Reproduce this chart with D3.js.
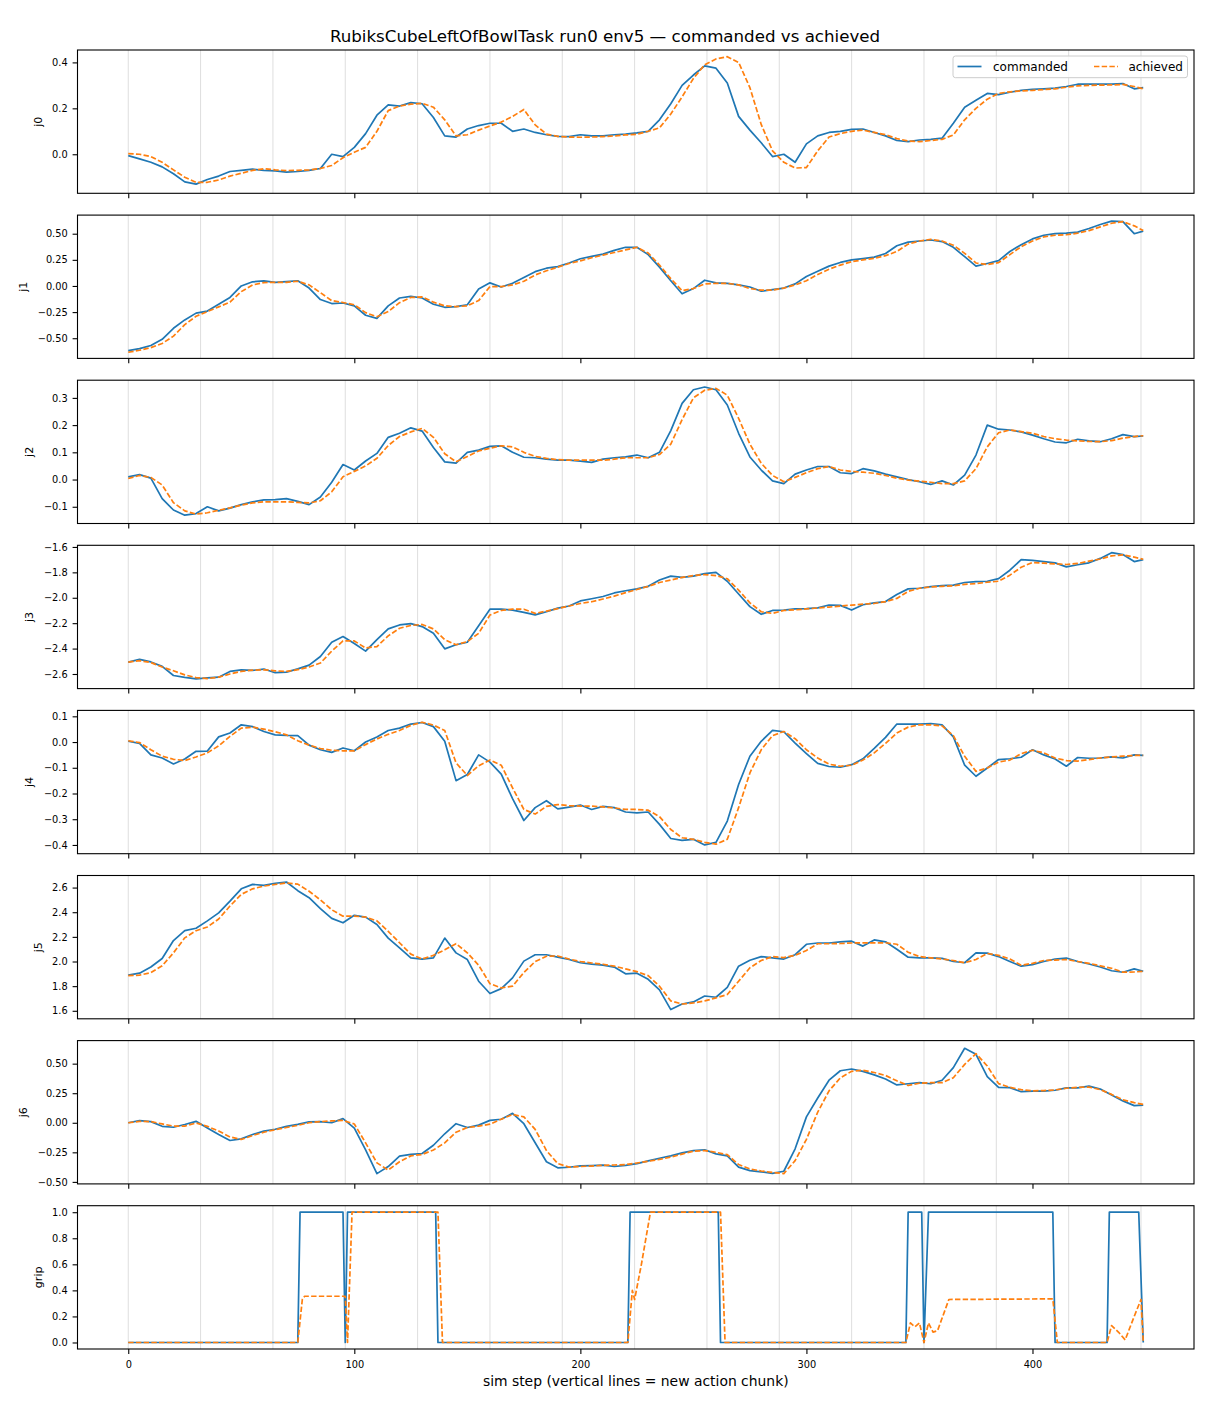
<!DOCTYPE html>
<html>
<head>
<meta charset="utf-8">
<script src="https://cdn.jsdelivr.net/npm/d3@7"></script>
<style>
  body { margin: 0; background: #fff; }
  svg text { font-family: "DejaVu Sans", sans-serif; fill: #000; }
</style>
</head>
<body>
<svg id="fig" width="1210" height="1408"></svg>
<script>
// sample steps for the joint series: every 5th sim step plus the last one
const steps = d3.range(0, 450, 5).concat([449]);

// action chunk boundaries (vertical lines)
const chunkStarts = [0, 32, 64, 96, 128, 160, 192, 224, 256, 288, 320, 352, 384, 416, 448];

const j0Cmd = [
  -0.006, -0.02, -0.035, -0.055, -0.085, -0.12, -0.13, -0.11, -0.095, -0.075,
  -0.07, -0.065, -0.07, -0.072, -0.078, -0.075, -0.07, -0.062, 0.0, -0.01,
  0.03, 0.09, 0.17, 0.215, 0.21, 0.225, 0.22, 0.16, 0.08, 0.075,
  0.11, 0.125, 0.135, 0.135, 0.1, 0.11, 0.095, 0.085, 0.078, 0.077,
  0.085, 0.08, 0.08, 0.085, 0.088, 0.093, 0.1, 0.15, 0.22, 0.3,
  0.345, 0.385, 0.375, 0.31, 0.165, 0.105, 0.05, -0.01, 0.0, -0.035,
  0.045, 0.08, 0.095, 0.1, 0.108, 0.11, 0.095, 0.08, 0.06, 0.055,
  0.062, 0.065, 0.07, 0.135, 0.205, 0.235, 0.265, 0.26, 0.27, 0.278,
  0.283, 0.285, 0.288, 0.295, 0.305, 0.305, 0.306, 0.305, 0.308, 0.285,
  0.29];
const j0Ach = [
  0.003, 0.0, -0.01, -0.035, -0.068, -0.1, -0.122, -0.122, -0.112, -0.095,
  -0.083, -0.07, -0.063, -0.068, -0.071, -0.07, -0.068, -0.062, -0.049, -0.015,
  0.009, 0.03, 0.1, 0.19, 0.21, 0.218, 0.222, 0.205, 0.15, 0.08,
  0.085, 0.105, 0.123, 0.14, 0.165, 0.195, 0.128, 0.088, 0.078, 0.075,
  0.074, 0.075, 0.077, 0.08, 0.084, 0.087, 0.1, 0.115, 0.175, 0.25,
  0.33, 0.39, 0.415, 0.425, 0.4, 0.29, 0.13, 0.015, -0.035, -0.06,
  -0.058, 0.015, 0.075, 0.09, 0.1, 0.105, 0.095, 0.085, 0.068, 0.058,
  0.055, 0.06, 0.065, 0.084, 0.15, 0.2, 0.24, 0.265, 0.272, 0.276,
  0.278, 0.282, 0.285, 0.292, 0.298, 0.3, 0.301, 0.302, 0.304, 0.295,
  0.285];

const j1Cmd = [
  -0.618, -0.6, -0.57, -0.51, -0.405, -0.325, -0.26, -0.24, -0.175, -0.11,
  0.0, 0.04, 0.048, 0.035, 0.042, 0.05, -0.02, -0.13, -0.168, -0.163,
  -0.19, -0.28, -0.31, -0.19, -0.115, -0.1, -0.115, -0.175, -0.204, -0.198,
  -0.18, -0.03, 0.03, -0.01, 0.025, 0.08, 0.137, 0.17, 0.185, 0.22,
  0.26, 0.283, 0.305, 0.34, 0.37, 0.37, 0.3, 0.18, 0.05, -0.075,
  -0.025, 0.055, 0.03, 0.025, 0.01, -0.01, -0.05, -0.035, -0.02, 0.02,
  0.09, 0.14, 0.19, 0.225, 0.25, 0.262, 0.276, 0.31, 0.385, 0.42,
  0.43, 0.44, 0.425, 0.37, 0.28, 0.19, 0.215, 0.242, 0.33, 0.395,
  0.45, 0.485, 0.5, 0.505, 0.515, 0.55, 0.588, 0.62, 0.615, 0.5,
  0.525];
const j1Ach = [
  -0.634, -0.615, -0.59, -0.55, -0.48, -0.37, -0.29, -0.245, -0.2, -0.155,
  -0.054, 0.01, 0.032, 0.035, 0.035, 0.045, 0.01, -0.064, -0.14, -0.158,
  -0.18, -0.255, -0.295, -0.245, -0.16, -0.11, -0.105, -0.155, -0.19, -0.198,
  -0.19, -0.14, -0.006, -0.006, 0.01, 0.045, 0.105, 0.145, 0.18, 0.215,
  0.24, 0.27, 0.295, 0.32, 0.345, 0.37, 0.315, 0.2, 0.07, -0.045,
  -0.025, 0.02, 0.025, 0.025, 0.01, -0.025, -0.04, -0.04, -0.02, 0.01,
  0.05, 0.11, 0.16, 0.2, 0.232, 0.25, 0.265, 0.29, 0.33, 0.4,
  0.43, 0.446, 0.43, 0.39, 0.312, 0.22, 0.205, 0.223, 0.3, 0.376,
  0.43, 0.47, 0.485, 0.49, 0.505, 0.53, 0.565, 0.6, 0.615, 0.575,
  0.53];

const j2Cmd = [
  0.01, 0.018, 0.005, -0.07, -0.112, -0.131, -0.125, -0.1, -0.115, -0.105,
  -0.092, -0.082, -0.075, -0.074, -0.07, -0.08, -0.092, -0.064, -0.01, 0.055,
  0.035, 0.068, 0.096, 0.155, 0.17, 0.19, 0.178, 0.118, 0.065, 0.06,
  0.1, 0.108, 0.122, 0.124, 0.1, 0.082, 0.08, 0.075, 0.071, 0.071,
  0.068, 0.063, 0.075, 0.08, 0.083, 0.09, 0.08, 0.1, 0.18, 0.28,
  0.33, 0.34, 0.33, 0.274, 0.17, 0.083, 0.035, -0.005, -0.015, 0.02,
  0.035, 0.048, 0.048, 0.025, 0.022, 0.04, 0.032, 0.02, 0.01, 0.0,
  -0.008, -0.018, -0.005, -0.02, 0.016, 0.09, 0.2, 0.185, 0.182, 0.175,
  0.163, 0.15, 0.138, 0.135, 0.148, 0.142, 0.139, 0.15, 0.165, 0.158,
  0.16];
const j2Ach = [
  0.004, 0.015, 0.008, -0.02, -0.085, -0.115, -0.127, -0.122, -0.113, -0.104,
  -0.094, -0.086, -0.082, -0.082, -0.082, -0.084, -0.086, -0.078, -0.045, 0.01,
  0.03, 0.05, 0.078, 0.125, 0.158, 0.175, 0.188, 0.155, 0.095, 0.065,
  0.085, 0.105, 0.115, 0.124, 0.12, 0.1, 0.085, 0.078, 0.073, 0.071,
  0.071, 0.071, 0.071, 0.075, 0.08, 0.08, 0.08, 0.092, 0.13, 0.22,
  0.3, 0.328, 0.335, 0.31, 0.225, 0.13, 0.06, 0.015, -0.008, 0.008,
  0.025, 0.04, 0.048, 0.035, 0.03, 0.027, 0.023, 0.015, 0.005, -0.002,
  -0.006, -0.01, -0.015, -0.015, -0.005, 0.04, 0.12, 0.172, 0.182, 0.176,
  0.17, 0.158, 0.15, 0.145, 0.142, 0.14, 0.139, 0.143, 0.152, 0.158,
  0.161];

const j3Cmd = [
  -2.507, -2.485, -2.505, -2.54, -2.612, -2.627, -2.638, -2.63, -2.625, -2.58,
  -2.568, -2.572, -2.561, -2.59, -2.585, -2.56, -2.53, -2.462, -2.35, -2.305,
  -2.36, -2.42, -2.33, -2.245, -2.214, -2.203, -2.227, -2.28, -2.402, -2.37,
  -2.35, -2.22, -2.09, -2.09, -2.097, -2.115, -2.135, -2.11, -2.082, -2.065,
  -2.025, -2.008, -1.99, -1.962, -1.945, -1.93, -1.91, -1.86, -1.83, -1.84,
  -1.83, -1.81, -1.8, -1.87, -1.97, -2.07, -2.13, -2.1, -2.097, -2.088,
  -2.085, -2.08, -2.057, -2.06, -2.097, -2.055, -2.04, -2.03, -1.975, -1.93,
  -1.925, -1.912, -1.905, -1.9, -1.88, -1.873, -1.87, -1.849, -1.783, -1.7,
  -1.705, -1.715, -1.725, -1.757, -1.74, -1.725, -1.69, -1.645, -1.66, -1.715,
  -1.7];
const j3Ach = [
  -2.507, -2.495, -2.51, -2.545, -2.575, -2.607, -2.628, -2.636, -2.625, -2.6,
  -2.58, -2.57, -2.567, -2.575, -2.58, -2.566, -2.545, -2.514, -2.42, -2.34,
  -2.34, -2.395, -2.384, -2.3, -2.24, -2.218, -2.21, -2.245, -2.33, -2.37,
  -2.345, -2.28, -2.136, -2.1, -2.09, -2.09, -2.123, -2.105, -2.085, -2.065,
  -2.045, -2.031, -2.01, -1.987, -1.96, -1.935, -1.91, -1.88, -1.86, -1.84,
  -1.825, -1.818, -1.825, -1.85, -1.94, -2.04, -2.11, -2.123, -2.1, -2.095,
  -2.088, -2.08, -2.073, -2.065, -2.058, -2.05, -2.045, -2.03, -2.005, -1.95,
  -1.925, -1.915, -1.91, -1.906, -1.895, -1.888, -1.878, -1.87, -1.822, -1.76,
  -1.722, -1.728, -1.733, -1.738, -1.73, -1.712, -1.695, -1.67, -1.662, -1.68,
  -1.697];

const j4Cmd = [
  0.003, -0.005, -0.05, -0.062, -0.085, -0.066, -0.036, -0.035, 0.02, 0.035,
  0.067, 0.06, 0.041, 0.028, 0.026, 0.025, -0.012, -0.03, -0.04, -0.023,
  -0.034, 0.0, 0.02, 0.045, 0.054, 0.07, 0.076, 0.06, 0.003, -0.15,
  -0.126, -0.05, -0.078, -0.125, -0.22, -0.305, -0.255, -0.228, -0.26, -0.253,
  -0.245, -0.262, -0.25, -0.255, -0.272, -0.275, -0.272, -0.32, -0.375, -0.382,
  -0.378, -0.4, -0.39, -0.307, -0.165, -0.055, 0.003, 0.045, 0.04, -0.004,
  -0.045, -0.083, -0.095, -0.098, -0.088, -0.065, -0.025, 0.018, 0.07, 0.07,
  0.07, 0.072, 0.067, 0.02, -0.09, -0.133, -0.101, -0.068, -0.065, -0.059,
  -0.03, -0.05, -0.066, -0.094, -0.06, -0.063, -0.062, -0.058, -0.062, -0.05,
  -0.052];
const j4Ach = [
  0.005, -0.002, -0.03, -0.055, -0.067, -0.072, -0.058, -0.042, -0.015, 0.022,
  0.054, 0.058, 0.05, 0.04, 0.028, 0.005, -0.012, -0.025, -0.032, -0.034,
  -0.034, -0.01, 0.012, 0.03, 0.045, 0.065, 0.077, 0.066, 0.045, -0.081,
  -0.13, -0.092, -0.07, -0.09, -0.178, -0.262, -0.28, -0.25, -0.243, -0.247,
  -0.249, -0.249, -0.252, -0.256, -0.262, -0.262, -0.265, -0.29, -0.34, -0.372,
  -0.378, -0.39, -0.397, -0.378, -0.255, -0.12, -0.03, 0.025, 0.041, 0.013,
  -0.03, -0.062, -0.086, -0.094, -0.09, -0.07, -0.042, -0.005, 0.035, 0.058,
  0.067, 0.067, 0.063, 0.025, -0.055, -0.114, -0.101, -0.078, -0.07, -0.045,
  -0.032, -0.042, -0.062, -0.072, -0.074, -0.068, -0.062, -0.058, -0.055, -0.052,
  -0.052];

const j5Cmd = [
  1.889, 1.905, 1.955, 2.024, 2.17, 2.25, 2.27, 2.33, 2.395, 2.49,
  2.59, 2.626, 2.618, 2.635, 2.645, 2.575, 2.518, 2.43, 2.35, 2.314,
  2.375, 2.36, 2.3, 2.19, 2.11, 2.03, 2.02, 2.03, 2.19, 2.07,
  2.016, 1.84, 1.74, 1.78, 1.867, 2.003, 2.055, 2.055, 2.035, 2.016,
  1.99, 1.978, 1.97, 1.955, 1.9, 1.905, 1.855, 1.77, 1.61, 1.655,
  1.672, 1.72, 1.71, 1.79, 1.962, 2.01, 2.04, 2.03, 2.02, 2.055,
  2.14, 2.15, 2.15, 2.16, 2.165, 2.125, 2.175, 2.16, 2.1, 2.035,
  2.03, 2.03, 2.025, 2.0, 1.99, 2.07, 2.068, 2.04, 2.0, 1.962,
  1.975, 2.0, 2.02, 2.028, 2.0, 1.98, 1.955, 1.925, 1.913, 1.94,
  1.921];
const j5Ach = [
  1.886, 1.889, 1.91, 1.965, 2.07, 2.192, 2.25, 2.28, 2.345, 2.45,
  2.545, 2.59, 2.612, 2.625, 2.638, 2.628, 2.57, 2.5, 2.42, 2.368,
  2.369, 2.36, 2.33, 2.245, 2.152, 2.06, 2.02, 2.05, 2.095, 2.145,
  2.07, 1.97, 1.82, 1.786, 1.8, 1.91, 2.0, 2.043, 2.045, 2.02,
  2.0, 1.988, 1.978, 1.962, 1.94, 1.918, 1.885, 1.8, 1.68, 1.655,
  1.664, 1.68, 1.705, 1.732, 1.84, 1.949, 2.008, 2.04, 2.032, 2.05,
  2.09, 2.144, 2.144, 2.146, 2.15, 2.152, 2.152, 2.152, 2.14, 2.075,
  2.04, 2.03, 2.02, 2.008, 1.99, 2.016, 2.065, 2.05, 2.02, 1.97,
  1.985, 2.008, 2.012, 2.016, 2.0, 1.985, 1.965, 1.945, 1.913, 1.915,
  1.921];

const j6Cmd = [
  0.0, 0.018, 0.01, -0.03, -0.038, -0.015, 0.012, -0.045, -0.1, -0.15,
  -0.136, -0.099, -0.071, -0.055, -0.03, -0.014, 0.008, 0.01, 0.0, 0.035,
  -0.045, -0.23, -0.43, -0.37, -0.282, -0.268, -0.26, -0.19, -0.093, -0.008,
  -0.04, -0.02, 0.02, 0.03, 0.08, -0.008, -0.169, -0.33, -0.381, -0.376,
  -0.365, -0.362, -0.358, -0.37, -0.36, -0.345, -0.322, -0.3, -0.28, -0.255,
  -0.235, -0.228, -0.263, -0.28, -0.375, -0.405, -0.415, -0.428, -0.41, -0.22,
  0.05, 0.21, 0.36, 0.44, 0.455, 0.435, 0.405, 0.37, 0.32, 0.33,
  0.34, 0.33, 0.36, 0.466, 0.63, 0.579, 0.39, 0.3, 0.297, 0.263,
  0.268, 0.268, 0.275, 0.295, 0.295, 0.31, 0.285, 0.235, 0.185, 0.145,
  0.15];
const j6Ach = [
  0.0, 0.012, 0.01, -0.01, -0.028, -0.028, -0.002, -0.03, -0.07, -0.12,
  -0.141, -0.108, -0.08, -0.058, -0.04, -0.022, 0.0, 0.01, 0.016, 0.02,
  -0.01, -0.17, -0.339, -0.4, -0.33, -0.28, -0.268, -0.23, -0.17, -0.08,
  -0.04, -0.028, -0.012, 0.03, 0.07, 0.05, -0.056, -0.235, -0.345, -0.375,
  -0.37, -0.366, -0.36, -0.357, -0.354, -0.34, -0.326, -0.31, -0.29, -0.265,
  -0.24, -0.235, -0.25, -0.27, -0.353, -0.39, -0.408, -0.42, -0.43, -0.32,
  -0.14, 0.09, 0.27, 0.38, 0.435, 0.444, 0.425, 0.4, 0.355, 0.315,
  0.335, 0.339, 0.339, 0.381, 0.494, 0.585, 0.48, 0.331, 0.3, 0.28,
  0.27, 0.272, 0.278, 0.292, 0.3, 0.302, 0.28, 0.24, 0.195, 0.17,
  0.155];

// gripper: breakpoints of the step-like signals
const gripCmdSteps = [0, 75, 76, 95, 96, 97, 136, 137, 221, 222, 261, 262, 344, 345, 351, 352, 354, 409, 410, 433, 434, 447, 449];
const gripCmdVals  = [0, 0, 1, 1, 0, 1, 1, 0, 0, 1, 1, 0, 0, 1, 1, 0, 1, 1, 0, 0, 1, 1, 0];
const gripAchSteps = [0, 75, 77, 78, 96, 97, 99, 137, 139, 221, 222, 223, 224, 227, 231, 262, 264,
                      344, 346, 348, 350, 352, 354, 356, 358, 363, 409, 411, 433, 435, 438, 441, 445, 448, 449];
const gripAchVals  = [0, 0, 0.33, 0.355, 0.355, 0, 1, 1, 0, 0, 0.2, 0.4, 0.33, 0.6, 1, 1, 0,
                      0, 0.15, 0.12, 0.15, 0, 0.15, 0.08, 0.09, 0.33, 0.335, 0, 0, 0.13, 0.08, 0.02, 0.2, 0.33, 0];

const panelLabels = ["j0", "j1", "j2", "j3", "j4", "j5", "j6", "grip"];
const yDomains = [[-0.170, 0.454], [-0.693, 0.678], [-0.1615, 0.365], [-2.715, -1.587],
                  [-0.434, 0.123], [1.535, 2.698], [-0.517, 0.695], [-0.05, 1.05]];
const yTicks = [
  [0.0, 0.2, 0.4],
  [-0.5, -0.25, 0, 0.25, 0.5],
  [-0.1, 0, 0.1, 0.2, 0.3],
  [-2.6, -2.4, -2.2, -2.0, -1.8, -1.6],
  [-0.4, -0.3, -0.2, -0.1, 0, 0.1],
  [1.6, 1.8, 2.0, 2.2, 2.4, 2.6],
  [-0.5, -0.25, 0, 0.25, 0.5],
  [0, 0.2, 0.4, 0.6, 0.8, 1.0]];
const yFormats = [".1f", ".2f", ".1f", ".1f", ".1f", ".1f", ".2f", ".1f"];
const xTicks = [0, 100, 200, 300, 400];
const xDomain = [-22.45, 471.45];

const panels = [
  { cmdX: steps, cmd: j0Cmd, achX: steps, ach: j0Ach },
  { cmdX: steps, cmd: j1Cmd, achX: steps, ach: j1Ach },
  { cmdX: steps, cmd: j2Cmd, achX: steps, ach: j2Ach },
  { cmdX: steps, cmd: j3Cmd, achX: steps, ach: j3Ach },
  { cmdX: steps, cmd: j4Cmd, achX: steps, ach: j4Ach },
  { cmdX: steps, cmd: j5Cmd, achX: steps, ach: j5Ach },
  { cmdX: steps, cmd: j6Cmd, achX: steps, ach: j6Ach },
  { cmdX: gripCmdSteps, cmd: gripCmdVals, achX: gripAchSteps, ach: gripAchVals }
];

const W = 1210, H = 1408;
const axLeft = 77.5, axRight = 1194;
const axTop0 = 50, axH = 143.3, axPitch = 165.1;
const blue = "#1f77b4", orange = "#ff7f0e";
const lw = 1.7;
const dash = "5.4,2.3";

const fig = d3.select("#fig");
fig.append("rect").attr("width", W).attr("height", H).attr("fill", "#fff");

const x = d3.scaleLinear().domain(xDomain).range([axLeft, axRight]);

panels.forEach((p, i) => {
  const top = axTop0 + i * axPitch;
  const bottom = top + axH;
  const y = d3.scaleLinear().domain(yDomains[i]).range([bottom, top]);
  const g = fig.append("g").attr("class", "panel");

  g.selectAll("line.chunk")
    .data(chunkStarts)
    .enter()
    .append("line")
    .attr("class", "chunk")
    .attr("x1", d => x(d)).attr("x2", d => x(d))
    .attr("y1", top).attr("y2", bottom)
    .attr("stroke", "#dadada")
    .attr("stroke-width", 0.9);

  const line = d3.line().x(d => x(d[0])).y(d => y(d[1]));

  g.append("path")
    .datum(d3.zip(p.cmdX, p.cmd))
    .attr("d", line)
    .attr("fill", "none")
    .attr("stroke", blue)
    .attr("stroke-width", lw)
    .attr("stroke-linejoin", "round");

  g.append("path")
    .datum(d3.zip(p.achX, p.ach))
    .attr("d", line)
    .attr("fill", "none")
    .attr("stroke", orange)
    .attr("stroke-width", lw)
    .attr("stroke-dasharray", dash)
    .attr("stroke-linejoin", "round");

  // y axis
  const ya = g.append("g")
    .attr("transform", `translate(${axLeft},0)`)
    .call(d3.axisLeft(y).tickValues(yTicks[i]).tickFormat(d3.format(yFormats[i]))
      .tickSize(4.9).tickPadding(4.9));
  ya.select(".domain").remove();
  ya.attr("font-family", "DejaVu Sans").attr("font-size", 9.8);
  ya.selectAll(".tick line").attr("stroke", "#000").attr("stroke-width", 1.1);

  // x axis (labels only on the last panel)
  const last = i === panels.length - 1;
  const xa = g.append("g")
    .attr("transform", `translate(0,${bottom})`)
    .call(d3.axisBottom(x).tickValues(xTicks)
      .tickFormat(last ? d3.format("d") : () => "")
      .tickSize(4.9).tickPadding(4.9));
  xa.select(".domain").remove();
  xa.attr("font-family", "DejaVu Sans").attr("font-size", 9.8);
  xa.selectAll(".tick line").attr("stroke", "#000").attr("stroke-width", 1.1);
  xa.selectAll(".tick text").attr("dy", "0.93em");

  // frame
  g.append("rect")
    .attr("x", axLeft).attr("y", top)
    .attr("width", axRight - axLeft).attr("height", axH)
    .attr("fill", "none").attr("stroke", "#000").attr("stroke-width", 1.1);

  // y label left of the tick labels
  const tb = ya.node().getBBox();
  const lx = axLeft + tb.x - 10.5;
  g.append("text")
    .attr("transform", `translate(${lx},${top + axH / 2}) rotate(-90)`)
    .attr("text-anchor", "middle")
    .attr("font-size", 11.1)
    .text(panelLabels[i]);

  if (i === 0) {
    const lg = g.append("g").attr("transform", `translate(${axRight - 241},${top + 6})`);
    lg.append("rect")
      .attr("x", 0).attr("y", 0).attr("width", 234.5).attr("height", 21.7)
      .attr("rx", 2.5).attr("fill", "#fff").attr("fill-opacity", 0.8)
      .attr("stroke", "#cccccc").attr("stroke-width", 1);
    const items = [
      { name: "commanded", color: blue, dash: null, hx: 4.5, tx: 40 },
      { name: "achieved", color: orange, dash: dash, hx: 141, tx: 175.5 }
    ];
    items.forEach(it => {
      lg.append("line")
        .attr("x1", it.hx).attr("x2", it.hx + 24)
        .attr("y1", 10.5).attr("y2", 10.5)
        .attr("stroke", it.color).attr("stroke-width", lw)
        .attr("stroke-dasharray", it.dash);
      lg.append("text")
        .attr("x", it.tx).attr("y", 14.6)
        .attr("font-size", 12)
        .text(it.name);
    });
  }
});

fig.append("text")
  .attr("x", W / 2).attr("y", 42)
  .attr("text-anchor", "middle")
  .attr("font-size", 16.67)
  .text("RubiksCubeLeftOfBowlTask run0 env5 — commanded vs achieved");

fig.append("text")
  .attr("x", (axLeft + axRight) / 2).attr("y", 1386)
  .attr("text-anchor", "middle")
  .attr("font-size", 13.9)
  .text("sim step (vertical lines = new action chunk)");
</script>
</body>
</html>
